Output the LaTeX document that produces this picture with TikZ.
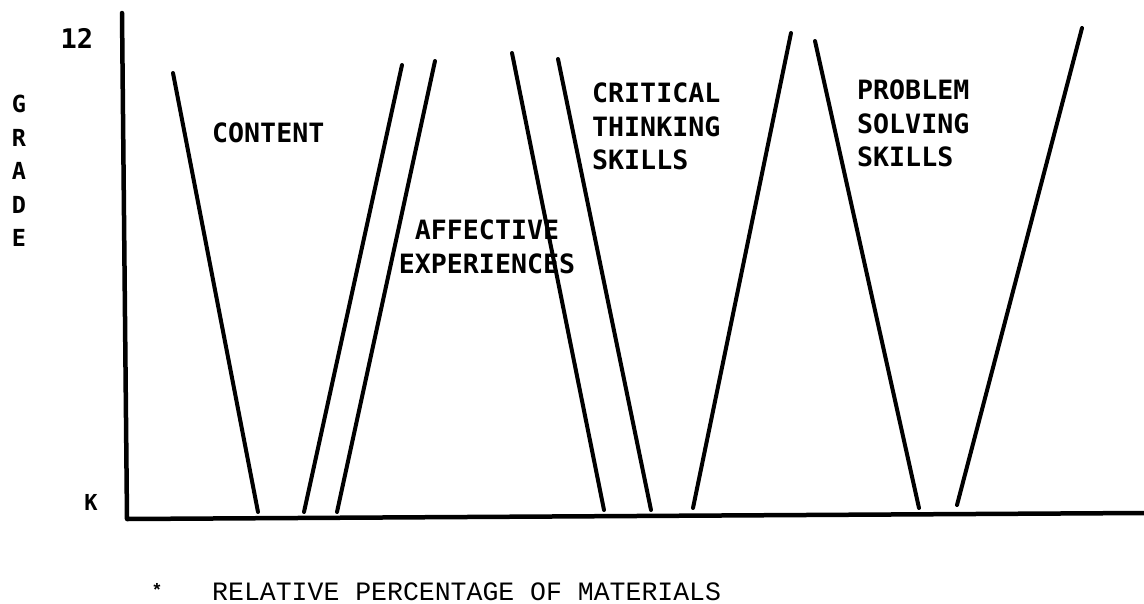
\documentclass[tikz,border=0pt]{standalone}
\usepackage{fontspec}
\usepackage{tikz}
\usetikzlibrary{arrows.meta}
\newfontfamily\rotulofont{DejaVu Sans Mono}
\newfontfamily\legendafont{Liberation Mono}

\begin{document}
\begin{tikzpicture}[x=1pt, y=-1pt,
    eixo/.style = {line width=4.5pt, line cap=round, line join=round},
    faixa/.style = {line width=4pt, line cap=round},
    rotulo/.style = {inner sep=0pt, anchor=north west, align=left,
        font=\rotulofont\bfseries\fontsize{26.6}{33.5}\selectfont},
    marca/.style = {inner sep=0pt, font=\rotulofont\bfseries\fontsize{27}{33.5}\selectfont}]

    \useasboundingbox (0,0) rectangle (1144,603);

    \draw[eixo] (122,13) coordinate (topo) -- (127,519) coordinate (origem) -- (1144,513) coordinate (fim);

    \draw[faixa] (173,73) coordinate (c1) -- (258,512) coordinate (c2);
    \draw[faixa] (304,512) coordinate (c3) -- (402,65) coordinate (c4);

    \draw[faixa] (337,512) coordinate (a1) -- (435,61) coordinate (a2);
    \draw[faixa] (512,53) coordinate (a3) -- (604,510) coordinate (a4);

    \draw[faixa] (558,59) coordinate (t1) -- (651,510) coordinate (t2);
    \draw[faixa] (693,508) coordinate (t3) -- (791,33) coordinate (t4);

    \draw[faixa] (815,41) coordinate (p1) -- (919,508) coordinate (p2);
    \draw[faixa] (957,505) coordinate (p3) -- (1082,28) coordinate (p4);

    \node[marca, anchor=base] (doze) at (77,48) {12};
    \node[marca, anchor=base, font=\rotulofont\bfseries\fontsize{22}{33.5}\selectfont] (k) at (91,510) {K};
    \node[marca, anchor=north, align=center, font=\rotulofont\bfseries\fontsize{23.5}{33.5}\selectfont] (grade) at (19,95) {G\\R\\A\\D\\E};

    \node[rotulo] (conteudo) at (212,123) {CONTENT};
    \node[rotulo, anchor=north, align=center] (afetivo) at (487,220) {AFFECTIVE\\EXPERIENCES};
    \node[rotulo] (critico) at (592,83) {CRITICAL\\THINKING\\SKILLS};
    \node[rotulo] (problema) at (857,80) {PROBLEM\\SOLVING\\SKILLS};

    \node[inner sep=0pt, font=\legendafont\bfseries\fontsize{18}{20}\selectfont] (ast) at (157,590) {*};
    \node[inner sep=0pt, anchor=base west, font=\legendafont\fontsize{26.5}{30}\selectfont] (legenda) at (212,600) {RELATIVE PERCENTAGE OF MATERIALS};

\end{tikzpicture}
\end{document}
